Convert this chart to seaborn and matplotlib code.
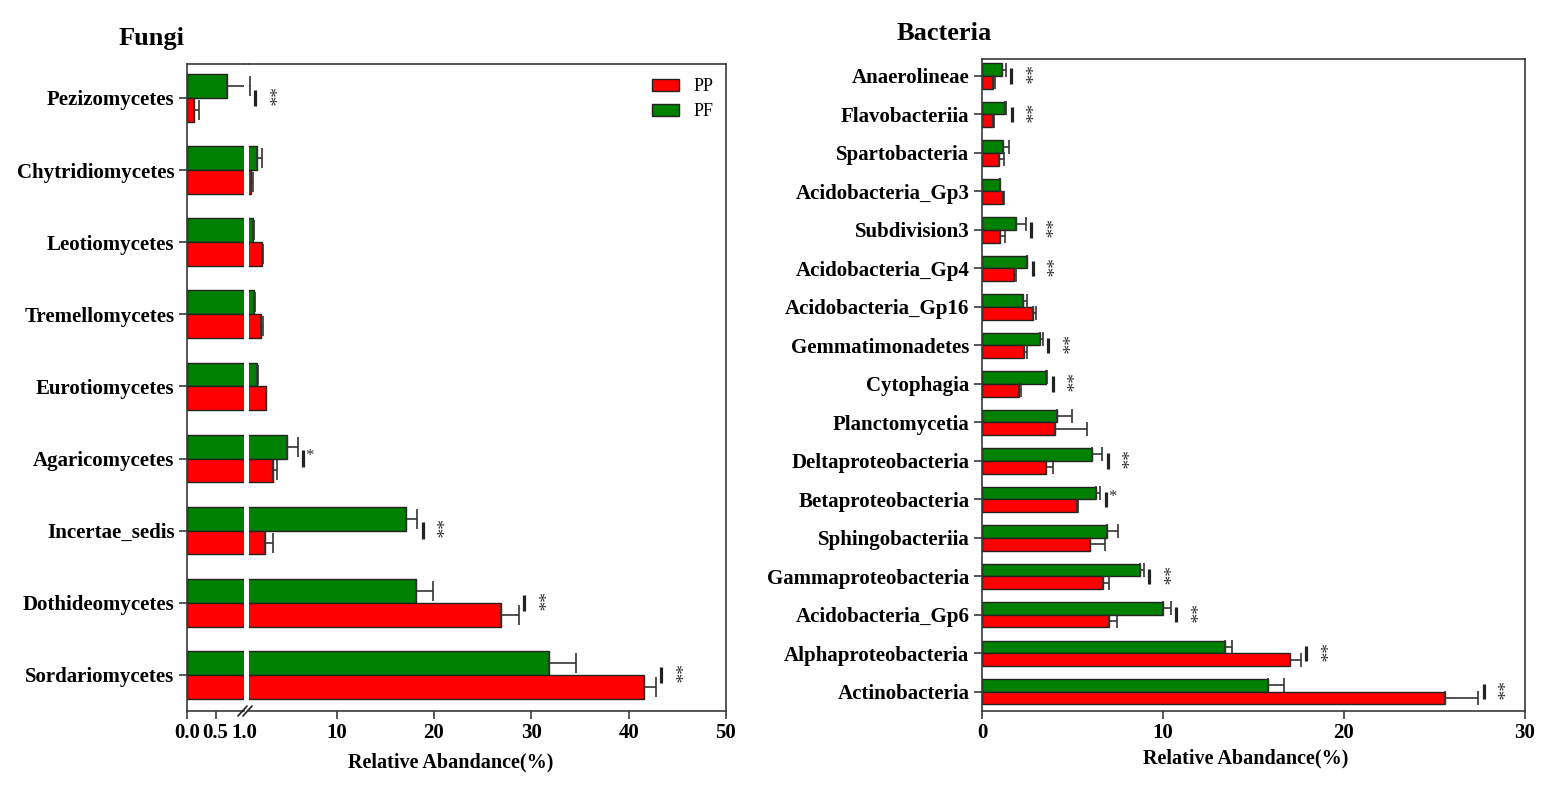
import numpy as np
import pandas as pd
import seaborn as sns
import matplotlib
matplotlib.use("Agg")
from matplotlib import pyplot as plt
from matplotlib.lines import Line2D
from matplotlib.patches import Patch
from matplotlib.transforms import offset_copy

# Daten (oben nach unten)
fungi_cats = ['Pezizomycetes', 'Chytridiomycetes', 'Leotiomycetes', 'Tremellomycetes',
              'Eurotiomycetes', 'Agaricomycetes', 'Incertae_sedis', 'Dothideomycetes',
              'Sordariomycetes']
fungi_pf = [0.70, 1.86, 1.38, 1.55, 1.79, 4.87, 17.1, 18.2, 31.8]
fungi_pf_err = [0.40, 0.52, 0.14, 0.10, 0.18, 1.13, 1.2, 1.7, 2.8]
fungi_pp = [0.13, 1.18, 2.31, 2.28, 2.73, 3.44, 2.64, 26.9, 41.6]
fungi_pp_err = [0.08, 0.27, 0.11, 0.17, 0.05, 0.41, 0.86, 1.8, 1.2]
fungi_sig = ['**', '', '', '', '', '*', '**', '**', '**']

bact_cats = ['Anaerolineae', 'Flavobacteriia', 'Spartobacteria', 'Acidobacteria_Gp3',
             'Subdivision3', 'Acidobacteria_Gp4', 'Acidobacteria_Gp16', 'Gemmatimonadetes',
             'Cytophagia', 'Planctomycetia', 'Deltaproteobacteria', 'Betaproteobacteria',
             'Sphingobacteriia', 'Gammaproteobacteria', 'Acidobacteria_Gp6',
             'Alphaproteobacteria', 'Actinobacteria']
bact_pf = [1.09, 1.27, 1.18, 0.98, 1.90, 2.47, 2.28, 3.20, 3.52, 4.16, 6.06, 6.32,
           6.91, 8.73, 10.02, 13.43, 15.78]
bact_pf_err = [0.22, 0.06, 0.29, 0.03, 0.53, 0.03, 0.21, 0.15, 0.08, 0.81, 0.57, 0.20,
               0.62, 0.22, 0.42, 0.40, 0.91]
bact_pp = [0.62, 0.59, 0.94, 1.14, 0.98, 1.79, 2.84, 2.32, 2.03, 4.03, 3.52, 5.27,
           5.95, 6.70, 7.02, 17.0, 25.58]
bact_pp_err = [0.10, 0.09, 0.29, 0.09, 0.31, 0.09, 0.14, 0.18, 0.12, 1.79, 0.38, 0.05,
               0.85, 0.30, 0.46, 0.61, 1.84]
bact_sig = ['**', '**', '', '', '**', '**', '', '**', '**', '', '**', '*', '',
            '**', '**', '**', '**']

groups = ['PF', 'PP']
colors = {'PP': '#FF0000', 'PF': '#008000'}

sns.set_style('ticks')
plt.rcParams['font.family'] = ['Liberation Serif', 'DejaVu Serif']
plt.rcParams['text.color'] = 'black'
plt.rcParams['axes.edgecolor'] = '#3a3a3a'
plt.rcParams['axes.linewidth'] = 1.2
plt.rcParams['xtick.color'] = '#3a3a3a'
plt.rcParams['ytick.color'] = '#3a3a3a'
plt.rcParams['xtick.labelcolor'] = 'black'
plt.rcParams['ytick.labelcolor'] = 'black'

W, H = 1559, 799
fig = plt.figure(figsize=(W / 100, H / 100), dpi=100)


def box(x0, y0, x1, y1):
    return [x0 / W, 1 - y1 / H, (x1 - x0) / W, (y1 - y0) / H]


def long_df(cats, pf, pp):
    return pd.DataFrame({
        'Class': cats * 2,
        'Group': ['PF'] * len(cats) + ['PP'] * len(cats),
        'Value': list(pf) + list(pp),
    })


def draw_bars(ax, df, cats, errs, capsize):
    sns.barplot(data=df, x='Value', y='Class', hue='Group', order=cats,
                hue_order=groups, palette=colors, orient='h', width=0.66,
                saturation=1, edgecolor='#222222', linewidth=1.0, legend=False, ax=ax)
    ends = {}
    for cont, g in zip(ax.containers, groups):
        for bar, c, e in zip(cont, cats, errs[g]):
            y = bar.get_y() + bar.get_height() / 2
            x = bar.get_width()
            ax.errorbar(x, y, xerr=[[0], [e]], fmt='none', ecolor='#333333',
                        elinewidth=1.2, capsize=capsize, capthick=1.2)
            ends[c] = max(ends.get(c, 0), x + e)
    return ends


def draw_sig(ax, cats, ends, sig, half):
    tr = offset_copy(ax.transData, fig=fig, x=5.5, y=0, units='dots')
    tr_txt = offset_copy(ax.transData, fig=fig, x=8, y=0, units='dots')
    for i, (c, s) in enumerate(zip(cats, sig)):
        if not s:
            continue
        x = ends[c]
        ax.plot([x, x], [i - half, i + half], color='#222222', lw=2.3,
                transform=tr, clip_on=False, solid_capstyle='butt')
        if s == '**':
            ax.text(x, i - 0.02, s, transform=tr_txt, rotation=270, ha='left',
                    va='center', fontsize=14, color='#333333', clip_on=False)
        else:
            ax.text(x, i - half * 0.3, s, transform=tr_txt, ha='left',
                    va='center', fontsize=12, color='#333333', clip_on=False)


def style(ax):
    ax.set_xlabel('')
    ax.set_ylabel('')
    ax.tick_params(axis='both', direction='out', length=6, width=1.2, pad=3)
    for lab in ax.get_xticklabels() + ax.get_yticklabels():
        lab.set_fontweight('bold')
        lab.set_fontsize(15)


# ---------- Fungi mit unterbrochener x-Achse ----------
f_df = long_df(fungi_cats, fungi_pf, fungi_pp)
f_err = {'PF': fungi_pf_err, 'PP': fungi_pp_err}

ax1 = fig.add_axes(box(187, 64, 244, 711))
ax2 = fig.add_axes(box(249, 64, 726, 711), sharey=ax1)
for ax in (ax1, ax2):
    ends_f = draw_bars(ax, f_df, fungi_cats, f_err, capsize=7)
    ax.set_ylim(len(fungi_cats) - 0.5, -0.47)
ax1.set_xlim(0, 1.0)
ax2.set_xlim(1.0, 50)
ax1.set_xticks([0, 0.5, 1.0])
ax1.set_xticklabels(['0.0', '0.5', '1.0'])
ax2.set_xticks([10, 20, 30, 40, 50])
ax1.spines['right'].set_visible(False)
ax2.spines['left'].set_visible(False)
ax2.tick_params(axis='y', left=False, labelleft=False)
style(ax1)
style(ax2)
ax1.xaxis.get_major_ticks()[-1].tick1line.set_visible(False)
draw_sig(ax2, fungi_cats, ends_f, fungi_sig, half=0.115)

# Spine-Lücke oben schließen, Bruchzeichen unten
fig.add_artist(Line2D([244 / W, 249 / W], [1 - 64 / H, 1 - 64 / H],
                      color='#3a3a3a', lw=1.2))
for dx in (0, 5):
    fig.add_artist(Line2D([(238 + dx) / W, (247 + dx) / W],
                          [1 - 716 / H, 1 - 706 / H], color='#222222', lw=1.2))

ax2.legend(handles=[Patch(facecolor=colors['PP'], edgecolor='#222222'),
                    Patch(facecolor=colors['PF'], edgecolor='#222222')],
           labels=['PP', 'PF'], loc='upper left', bbox_to_anchor=(0.845, 0.978),
           frameon=False, fontsize=13, handlelength=1.5, handleheight=0.65,
           labelspacing=0.45, handletextpad=0.8, borderpad=0, borderaxespad=0)

fig.text(152 / W, 1 - 38 / H, 'Fungi', ha='center', va='center',
         fontsize=19, fontweight='bold')
fig.text(451 / W, 1 - 762 / H, 'Relative Abandance(%)', ha='center', va='center',
         fontsize=14.5, fontweight='bold')

# ---------- Bacteria ----------
b_df = long_df(bact_cats, bact_pf, bact_pp)
b_err = {'PF': bact_pf_err, 'PP': bact_pp_err}

ax3 = fig.add_axes(box(982, 59, 1525, 711))
ends_b = draw_bars(ax3, b_df, bact_cats, b_err, capsize=5)
ax3.set_xlim(0, 30)
ax3.set_ylim(len(bact_cats) - 0.5, -0.44)
ax3.set_xticks([0, 10, 20, 30])
style(ax3)
draw_sig(ax3, bact_cats, ends_b, bact_sig, half=0.2)

fig.text(944 / W, 1 - 34 / H, 'Bacteria', ha='center', va='center',
         fontsize=19, fontweight='bold')
fig.text(1246 / W, 1 - 758 / H, 'Relative Abandance(%)', ha='center', va='center',
         fontsize=14.5, fontweight='bold')

fig.savefig('out.png', dpi=100, facecolor='white')
